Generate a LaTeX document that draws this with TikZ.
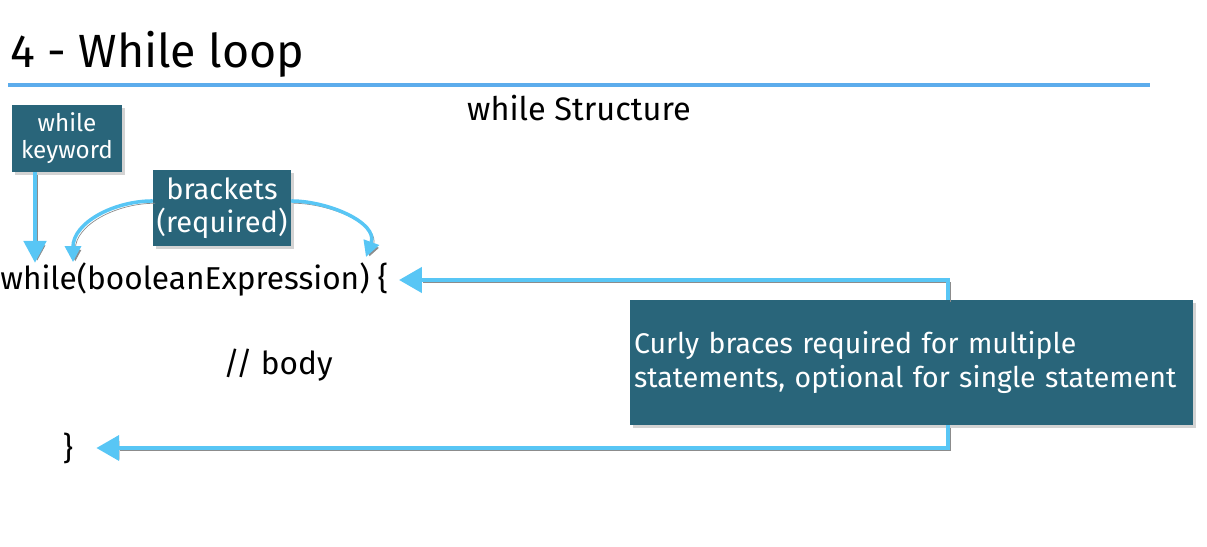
\documentclass[tikz,border=0pt]{standalone}
\usepackage{fontspec}
\setmainfont{Fira Sans}
\usepackage{tikz}
\usetikzlibrary{shapes,positioning,arrows.meta,shadows}

\definecolor{tagteal}{RGB}{41,101,122}
\definecolor{arrowblue}{RGB}{88,198,245}
\definecolor{ruleblue}{RGB}{92,172,236}

\begin{document}
\begin{tikzpicture}[x=0.02cm,y=-0.02cm,
    tag/.style={fill=tagteal, text=white, inner sep=2pt,
        drop shadow={shadow xshift=1.5pt,shadow yshift=-1.5pt,opacity=0.35}},
    code/.style={font=\fontsize{18}{21}\selectfont, inner sep=0pt},
    link/.style={draw=arrowblue, line width=2.8pt,
        -{Triangle[width=14pt,length=13pt]},
        preaction={draw=black!45, transform canvas={xshift=1.3pt,yshift=-1.3pt}}},
    curl/.style={link, line width=2pt, -{Triangle[width=9pt,length=9pt]}}
]
\useasboundingbox (0,0) rectangle (1207,547);

\node[anchor=base west,
    inner sep=0pt,
    font=\fontsize{26.5}{31}\selectfont
] (title) at (10,68) {4 - While loop};

\coordinate (ruleL) at (8,85);
\coordinate (ruleR) at (1150,85);
\draw[ruleblue, line width=2pt] (ruleL) -- (ruleR);

\node[font=\fontsize{18.5}{22}\selectfont] (heading) at (579,108) {while Structure};

\node[tag,
    minimum width=2.2cm,
    minimum height=1.34cm,
    align=center,
    font=\fontsize{13.8}{15.3}\selectfont
] (keyword) at (67,138.5) {while\\keyword};

\node[tag,
    minimum width=2.72cm,
    minimum height=1.52cm,
    align=center,
    font=\fontsize{16.5}{19}\selectfont
] (brackets) at (222,208) {brackets\\(required)};

\node[code, anchor=west] (code) at (0,280) {while(booleanExpression) \{};
\node[code] (body) at (278,365) {// body};
\node[code] (close) at (68,448) {\}};

\node[tag,
    minimum width=11.26cm,
    minimum height=2.5cm,
    text width=11.1cm,
    align=left,
    font=\fontsize{16.2}{19}\selectfont
] (curly) at (911.5,362.5) {Curly braces required for multiple\\statements, optional for single statement};

\coordinate (lparen) at (73,262);
\coordinate (rbrace) at (366,257);

% arrows
\draw[link, line width=2.8pt, -{Triangle[width=12.5pt,length=12.5pt]}]
    ([xshift=-0.64cm]keyword.south) -- ([xshift=-0.64cm]keyword.south |- code.north);

\draw[curl] ([yshift=4pt]brackets.west) to[out=180,in=90] (lparen);
\draw[curl] ([yshift=4pt]brackets.east) to[out=0,in=70] (rbrace);

\draw[link, shorten >=6pt] ([xshift=0.73cm]curly.north) |- (code.east);
\draw[link, shorten >=13pt] ([xshift=0.73cm]curly.south) |- (close.east);

\end{tikzpicture}
\end{document}
